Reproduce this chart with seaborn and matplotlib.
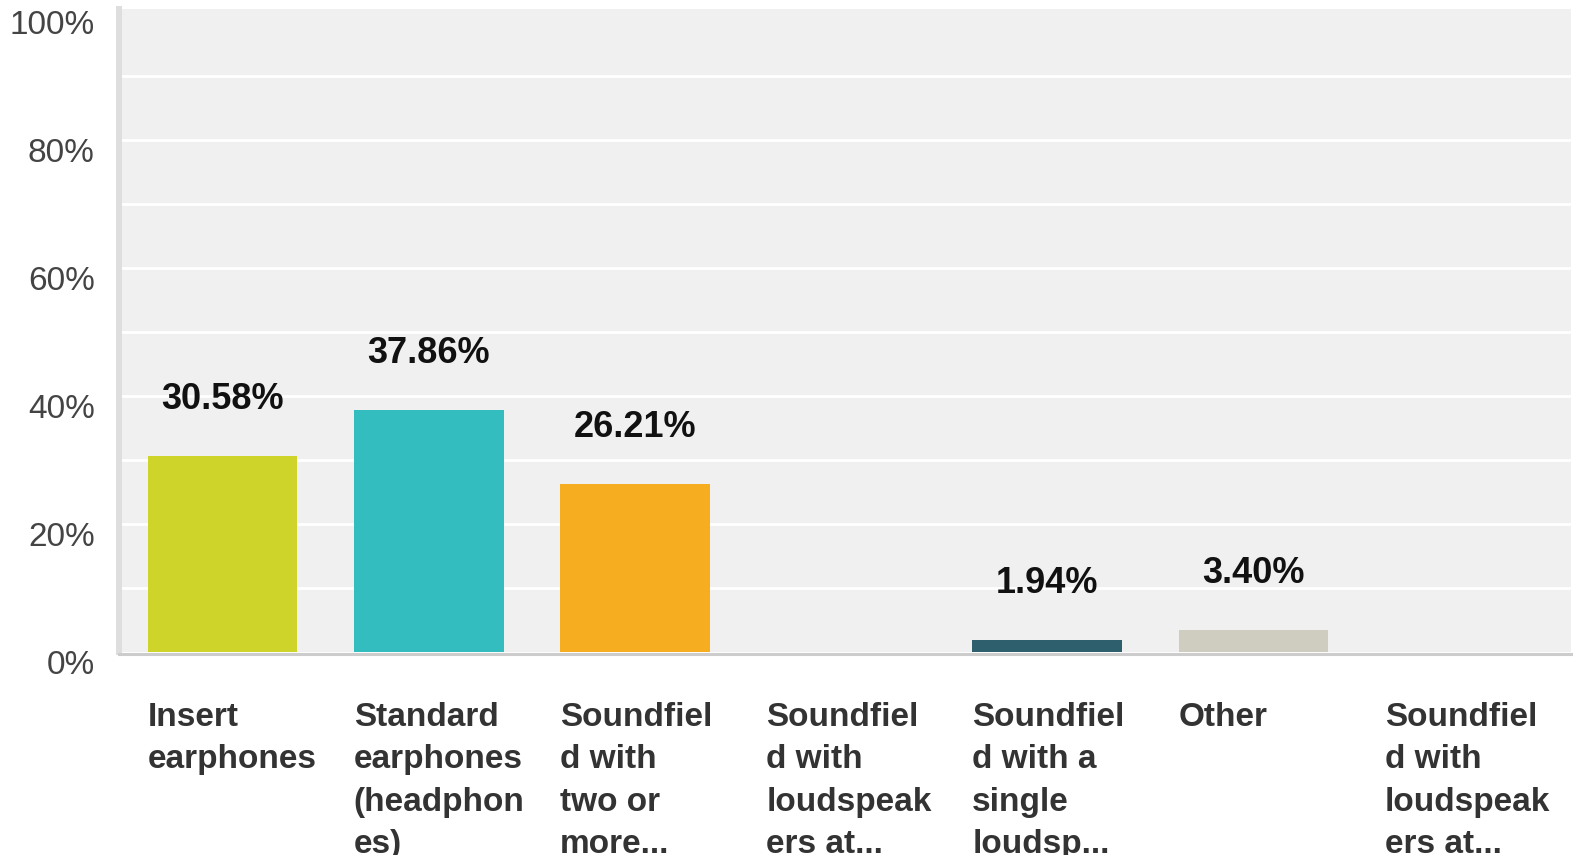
import numpy as np
import pandas as pd
import matplotlib
matplotlib.use("Agg")
import matplotlib.pyplot as plt
import matplotlib.transforms as mtransforms
import seaborn as sns

# Survey answers (share of respondents, %)
categories = [
    "Insert\nearphones",
    "Standard\nearphones\n(headphon\nes)",
    "Soundfiel\nd with\ntwo or\nmore...",
    "Soundfiel\nd with\nloudspeak\ners at...",
    "Soundfiel\nd with a\nsingle\nloudsp...",
    "Other",
    "Soundfiel\nd with\nloudspeak\ners at...",
]
values = [30.58, 37.86, 26.21, 0.0, 1.94, 3.40, 0.0]
bar_colors = ["#CFD42A", "#33BDBF", "#F6AE20", "#9A9A9A", "#2D606C", "#CFCDBF", "#9A9A9A"]
y_ticks = [0, 20, 40, 60, 80, 100]
y_tick_labels = ["0%", "20%", "40%", "60%", "80%", "100%"]

df = pd.DataFrame({"pos": np.arange(len(values)), "share": values})

sns.set_theme(style="white")
plt.rcParams["font.family"] = ["Liberation Sans", "DejaVu Sans"]

W, H, DPI = 1575, 855, 100
fig = plt.figure(figsize=(W / DPI, H / DPI), dpi=DPI)
fig.patch.set_facecolor("white")

left, right, top, bottom = 119, 1571, 9, 652
ax = fig.add_axes([left / W, (H - bottom) / H, (right - left) / W, (bottom - top) / H])
ax.set_facecolor("#F0F0F0")

bar_w = 0.727
sns.barplot(data=df, x="pos", y="share", hue="pos", palette=bar_colors,
            legend=False, width=bar_w, saturation=1, linewidth=0,
            ax=ax, zorder=3)

ax.set_xlim(-0.502, 6.54)
ax.set_ylim(0, 100 * (bottom - top) / 640)

# white horizontal grid every 10 %
for g in range(10, 100, 10):
    ax.axhline(g, color="white", lw=2.0, zorder=1)

# spines
for s in ["top", "right"]:
    ax.spines[s].set_visible(False)
ax.spines["left"].set_color("#DEDEDE")
ax.spines["left"].set_linewidth(4.3)
ax.spines["bottom"].set_color("#CCCCCC")
ax.spines["bottom"].set_linewidth(2.2)
ax.spines["bottom"].set_position(("outward", 1.4))
ax.spines["bottom"].set_zorder(4)

# y tick labels sit just below their grid line
ax.set_yticks(y_ticks, y_tick_labels)
ax.tick_params(axis="y", length=0, pad=17.5, labelsize=24, labelcolor="#444444")
shift = mtransforms.ScaledTranslation(0, 2 / DPI, fig.dpi_scale_trans)
for lbl in ax.get_yticklabels():
    lbl.set_verticalalignment("top")
    lbl.set_transform(lbl.get_transform() + shift)

ax.set_xticks([])
ax.set_xlabel("")
ax.set_ylabel("")

# category labels, left aligned with the bar's left edge
for i, txt in enumerate(categories):
    ax.annotate(txt, xy=(i - bar_w / 2, 0), xycoords=("data", "axes fraction"),
                xytext=(0, -50 * 72 / DPI), textcoords="offset points",
                ha="left", va="top", fontsize=24, fontweight="bold",
                color="#333333", linespacing=1.47, annotation_clip=False)

# value labels above the bars
for i, v in enumerate(values):
    if v > 0:
        ax.annotate(f"{v:.2f}%", xy=(i, v), xytext=(0, 47 * 72 / DPI),
                    textcoords="offset points", ha="center", va="baseline",
                    fontsize=26, fontweight="bold", color="#111111")

fig.savefig("out.png", dpi=DPI)
